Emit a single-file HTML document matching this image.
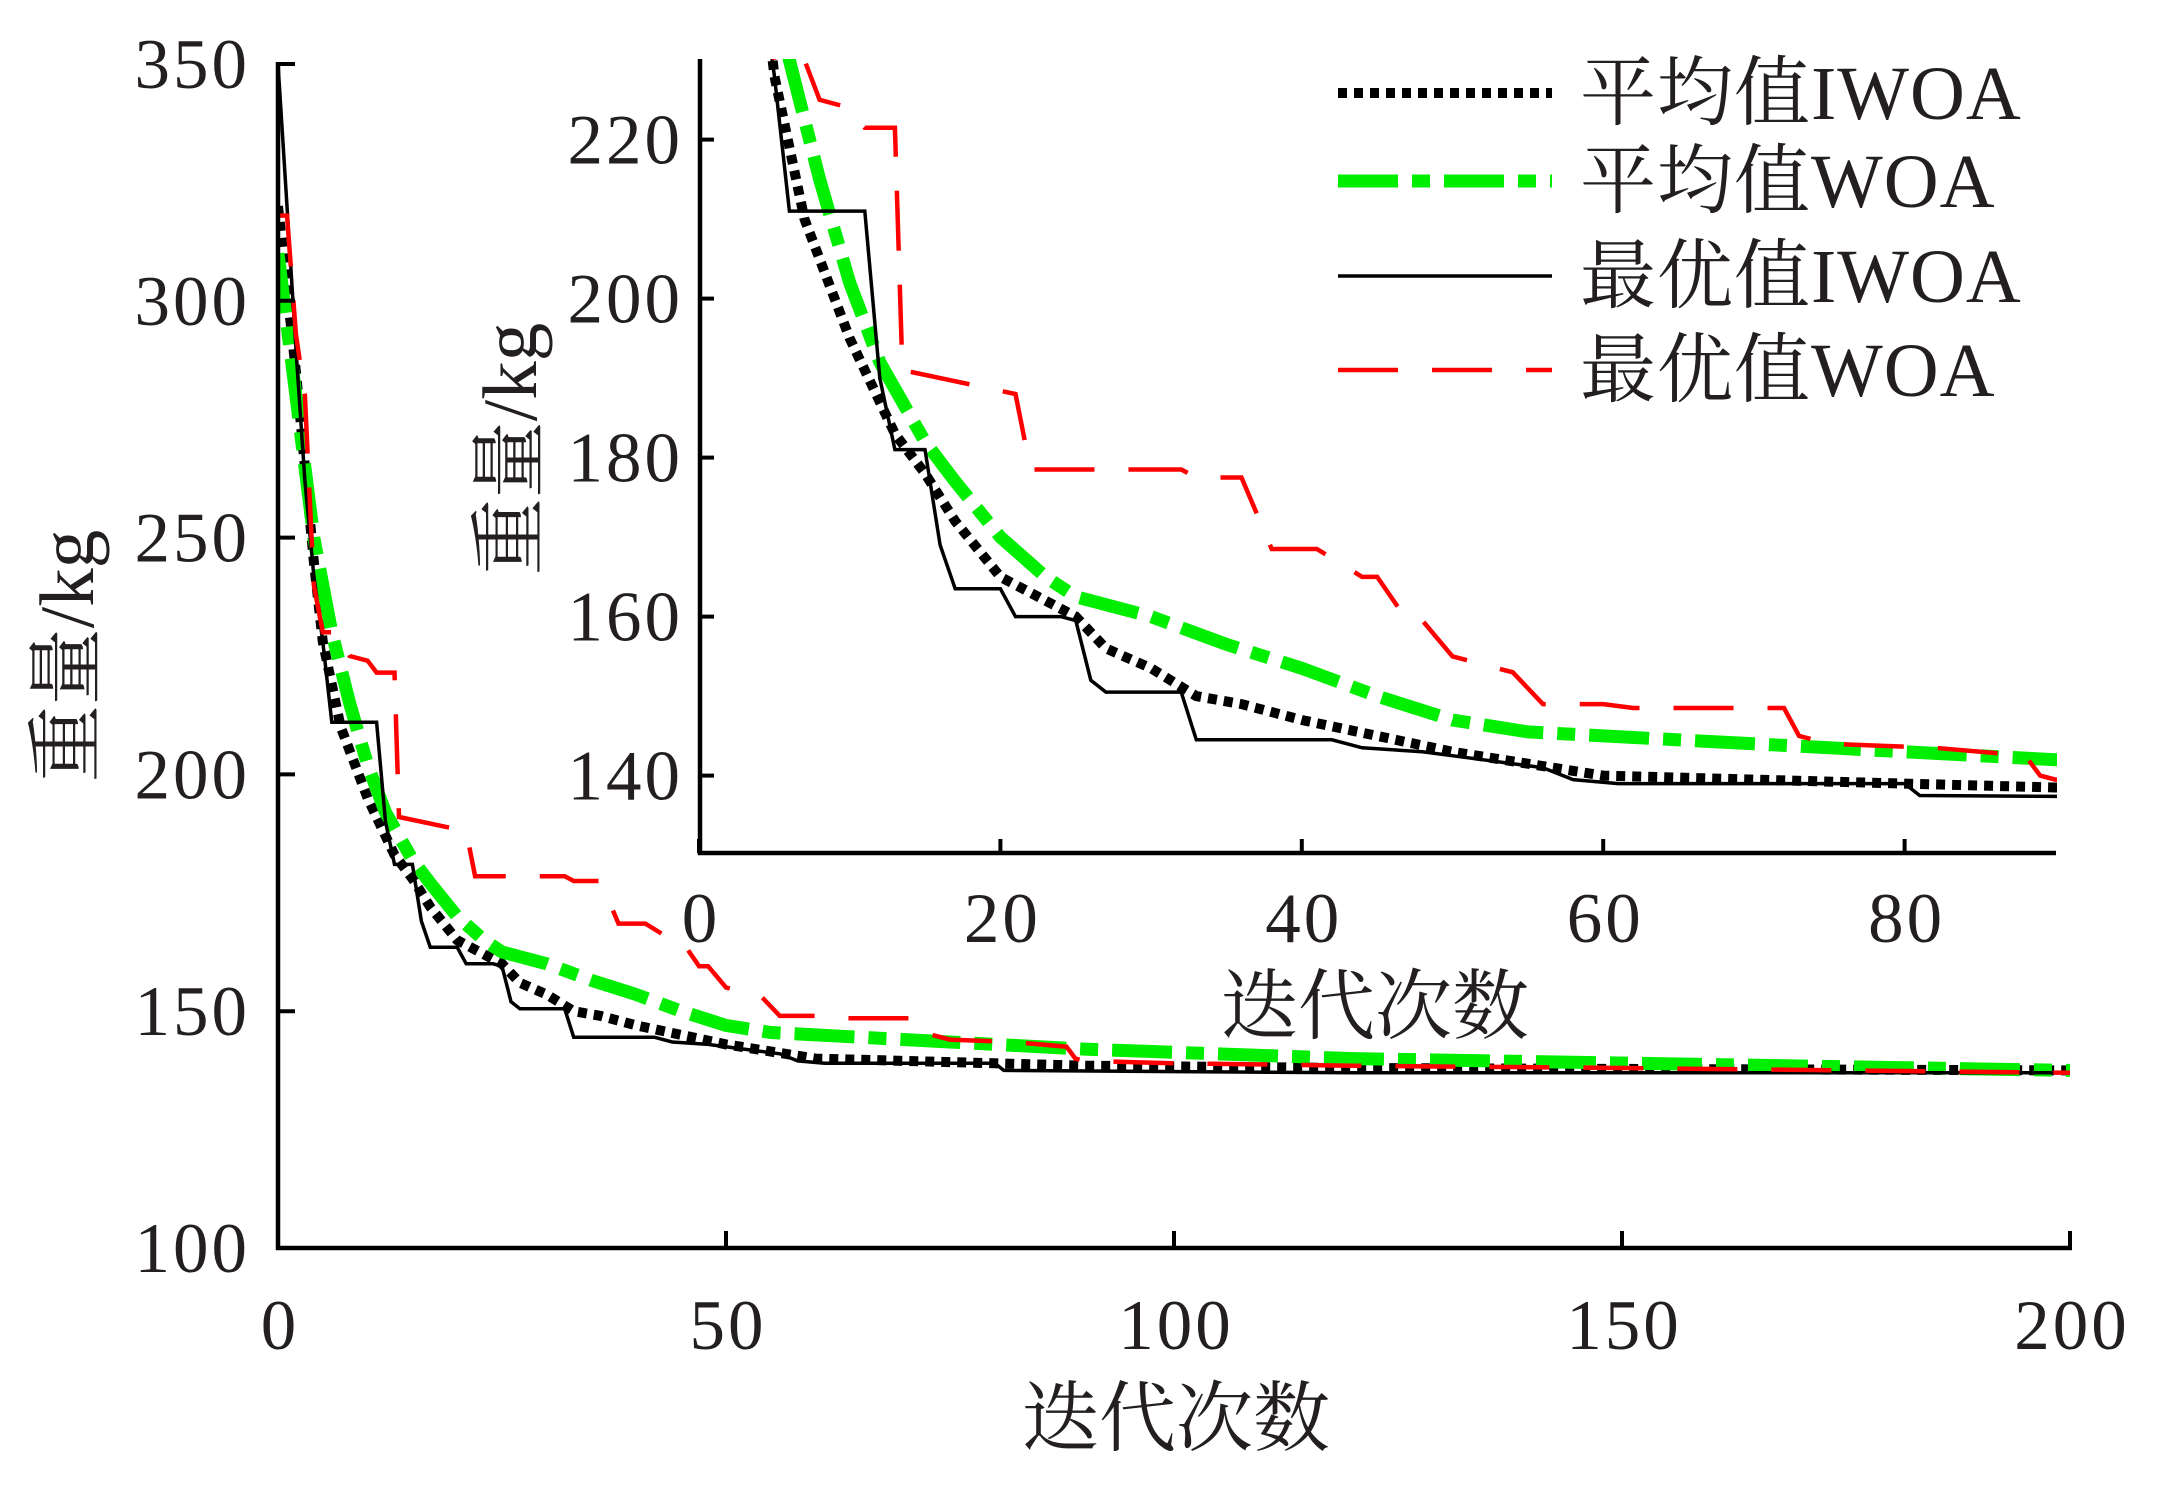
<!DOCTYPE html>
<html><head><meta charset="utf-8">
<style>
html,body{margin:0;padding:0;background:#fff;}
svg{display:block;}
.tick{font-family:"Liberation Serif","Noto Serif CJK SC",serif;font-size:71px;letter-spacing:3px;fill:#231f20;}
.ttl{font-family:"Liberation Serif","Noto Serif CJK SC",serif;font-size:77px;fill:#231f20;}
.leg{font-family:"Liberation Serif","Noto Serif CJK SC",serif;font-size:76px;letter-spacing:1px;fill:#231f20;}
</style></head>
<body>
<svg id="chart" width="2164" height="1496" viewBox="0 0 2164 1496" xmlns="http://www.w3.org/2000/svg">
<defs>
<clipPath id="mainClip"><rect x="278" y="60" width="1796" height="1190"/></clipPath>
<clipPath id="insetClip"><rect x="699" y="59" width="1358" height="795"/></clipPath>
</defs>
<g id="main"></g>
<g id="inset"></g>
<g id="legend"></g>
</svg>
<script>
// ---- data ----
const bestIWOAIter = [0,1,2,3,4,5,6,11,12,13,15,16,17,20,21,24,25,26,27,32,33,42,44,48,52,56,58,61,80,81,120,200];
const bestIWOAVal  = [350,320,290,262,242,228,211,211,190,181,181,169,163.5,163.5,160,160,159.5,152,150.5,150.5,144.5,144.5,143.5,143,142,141,139.5,139,139,137.5,137,137];
const meanIWOAIter = [0,2,3,4,5,7,10,13,15,17,20,23,25,27,30,33,36,40,45,50,55,60,70,80,90,120,200];
const meanIWOAVal  = [320,285,265,245,228,210,195,183,178,172,165,162,160,156,153.5,150,149,147,145,143,141.5,140,139.5,139,138.5,138,137.5];
const meanWOAIter = [0,2,4,6,8,10,12,15,17,20,23,25,30,35,40,45,50,55,60,70,75,80,90,120,200];
const meanWOAVal  = [310,280,250,230,215,202,192,182,177,170,165,162.5,160,156.5,153.5,150,147,145.5,145,144,143.5,143,142,140,137.5];
const bestWOAIter = [0,1,2,3,4,5,7,8,10,11,13,13.5,21,22,32,33,36,38,41,44,45,47,48,50,54,56,60,62,72,73,75,82,88,89,90,100,120,150,200];
const bestWOAVal  = [318,318,293,280,240,230,230,225,224,221.5,221.5,191,188,178.5,178.5,177.5,177.5,168.5,168.5,165,165,159.5,159.5,155,153,149,149,148.5,148.5,145,144,143.5,142.5,140,139.5,139,138.5,138,137];
const mainXTicks = [0,50,100,150,200];
const mainYTicks = [100,150,200,250,300,350];
const insetXTicks = [0,20,40,60,80];
const insetYTicks = [140,160,180,200,220];
const legendLabels = ["平均值IWOA","平均值WOA","最优值IWOA","最优值WOA"];

const NS="http://www.w3.org/2000/svg";
function mk(tag,attrs,parent){const e=document.createElementNS(NS,tag);for(const k in attrs)e.setAttribute(k,attrs[k]);parent.appendChild(e);return e;}

// axis functions
const mx = v => 278 + v*(2070-278)/200;
const my = v => 1248 - (v-100)*(1248-64)/250;
const ix = v => 699 + v*15.07;
const iy = v => 139.6 + (220-v)*7.95;

const styles = [
 {iter:meanIWOAIter,val:meanIWOAVal,stroke:"#000",w:10,dash:"9 7",name:"mean-iwoa-line"},
 {iter:meanWOAIter,val:meanWOAVal,stroke:"#00ee00",w:13,dash:"60 14 18 14",name:"mean-woa-line"},
 {iter:bestIWOAIter,val:bestIWOAVal,stroke:"#000",w:3.5,dash:"",name:"best-iwoa-line"},
 {iter:bestWOAIter,val:bestWOAVal,stroke:"#ff0000",w:4.5,dash:"60 34",name:"best-woa-line"}
];
function pathD(iter,val,fx,fy){return iter.map((t,i)=>(i?"L":"M")+fx(t).toFixed(1)+","+fy(val[i]).toFixed(1)).join(" ");}

const main=document.getElementById('main');
const mg=mk('g',{'clip-path':'url(#mainClip)'},main);
styles.forEach(s=>{
  const p=mk('path',{d:pathD(s.iter,s.val,mx,my),fill:'none',stroke:s.stroke,'stroke-width':s.w,'stroke-dasharray':s.dash},mg);
  
  
});
let a=mk('line',{x1:278,y1:62,x2:278,y2:1250,stroke:'#000','stroke-width':4.5},main);

a=mk('line',{x1:276,y1:1248,x2:2072,y2:1248,stroke:'#000','stroke-width':4.5},main);

mainYTicks.forEach(v=>{
  mk('line',{x1:278,y1:my(v),x2:295,y2:my(v),stroke:'#000','stroke-width':4},main);
  const t=mk('text',{x:250,y:my(v)+24,'text-anchor':'end',class:'tick'},main);t.textContent=v;
  
});
mainXTicks.forEach(v=>{
  mk('line',{x1:mx(v),y1:1248,x2:mx(v),y2:1231,stroke:'#000','stroke-width':4},main);
  const t=mk('text',{x:mx(v)+2,y:1349,'text-anchor':'middle',class:'tick'},main);t.textContent=v;
  
});
let tt=mk('text',{x:1176,y:1445,'text-anchor':'middle',class:'ttl'},main);tt.textContent="迭代次数";

tt=mk('text',{x:0,y:0,'text-anchor':'middle',class:'ttl',transform:'translate(93,656) rotate(-90)'},main);tt.textContent="重量/kg";


// inset
const ins=document.getElementById('inset');
const ig=mk('g',{'clip-path':'url(#insetClip)'},ins);
styles.forEach(s=>{
  const p=mk('path',{d:pathD(s.iter,s.val,ix,iy),fill:'none',stroke:s.stroke,'stroke-width':s.w,'stroke-dasharray':s.dash},ig);
  
  
});
a=mk('line',{x1:700,y1:59,x2:700,y2:855,stroke:'#000','stroke-width':4.5},ins);

a=mk('line',{x1:698,y1:853,x2:2056,y2:853,stroke:'#000','stroke-width':4.5},ins);

insetYTicks.forEach(v=>{
  mk('line',{x1:700,y1:iy(v),x2:714,y2:iy(v),stroke:'#000','stroke-width':4},ins);
  const t=mk('text',{x:683,y:iy(v)+24,'text-anchor':'end',class:'tick'},ins);t.textContent=v;
  
});
insetXTicks.forEach(v=>{
  mk('line',{x1:ix(v),y1:853,x2:ix(v),y2:839,stroke:'#000','stroke-width':4},ins);
  const t=mk('text',{x:ix(v)+2,y:942,'text-anchor':'middle',class:'tick'},ins);t.textContent=v;
  
});
tt=mk('text',{x:1375,y:1033,'text-anchor':'middle',class:'ttl'},ins);tt.textContent="迭代次数";

tt=mk('text',{x:0,y:0,'text-anchor':'middle',class:'ttl',transform:'translate(536,449) rotate(-90)'},ins);tt.textContent="重量/kg";


// legend
const lg=document.getElementById('legend');
const legY=[93,181,276,370];
styles.forEach((s,i)=>{
  const l=mk('line',{x1:1338,y1:legY[i],x2:1552,y2:legY[i],stroke:s.stroke,'stroke-width':s.w,'stroke-dasharray':s.dash},lg);
  
  const t=mk('text',{x:1580,y:legY[i]+26,class:'leg'},lg);t.textContent=legendLabels[i];
  
});
</script>
</body></html>
